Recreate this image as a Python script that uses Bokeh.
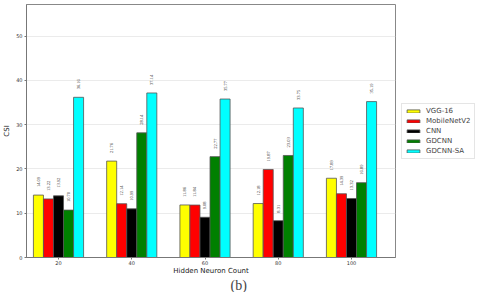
import numpy as np
from bokeh.plotting import figure
from bokeh.models import (ColumnDataSource, Range1d, FixedTicker, Legend, LegendItem,
                          Title, LabelSet)
from bokeh.embed import file_html
from bokeh.resources import INLINE

neurons = ["20", "40", "60", "80", "100"]
models = ["VGG-16", "MobileNetV2", "CNN", "GDCNN", "GDCNN-SA"]
vgg16 = [14.09, 21.76, 11.86, 12.18, 17.89]
mobilenetv2 = [13.22, 12.14, 11.84, 19.87, 14.39]
cnn = [13.92, 10.99, 9.08, 8.31, 13.32]
gdcnn = [10.70, 28.14, 22.77, 23.03, 16.89]
gdcnn_sa = [36.16, 37.14, 35.77, 33.75, 35.19]
series = [vgg16, mobilenetv2, cnn, gdcnn, gdcnn_sa]
colors = ["#ffff00", "#ff0000", "#000000", "#008000", "#00ffff"]

FONT = "DejaVu Sans"
bar_w = 0.137
PX = 73.25           # pixels per category step
FL, FR = 28, 397     # frame left/right in page px
C0 = 60              # page x of first group centre
FT, FB = 4, 257      # frame top/bottom in page px

x_start = -(C0 - FL) / PX
x_end = x_start + (FR - FL) / PX
y_end = (FB - FT) / 4.43

p = figure(frame_width=FR - FL, frame_height=FB - FT, output_backend="svg",
           toolbar_location=None,
           x_range=Range1d(x_start, x_end), y_range=Range1d(0, y_end),
           min_border_left=0, min_border_right=0, min_border_top=4, min_border_bottom=35)

idx = np.arange(len(neurons))
items = []
for k, (name, vals, col) in enumerate(zip(models, series, colors)):
    xs = idx + (k - 2) * bar_w
    src = ColumnDataSource(dict(x=xs, top=vals, lab=[f"{v:.2f}" for v in vals]))
    r = p.vbar(x="x", top="top", width=bar_w, bottom=0, source=src,
               fill_color=col, line_color="#555555", line_width=0.8)
    items.append(LegendItem(label=name, renderers=[r]))
    ls = LabelSet(x="x", y="top", text="lab", source=src, angle=np.pi / 2,
                  text_align="left", text_baseline="middle", y_offset=8,
                  text_font_size="4.5px", text_font=FONT, text_color="#222222")
    p.add_layout(ls)

p.xaxis.ticker = FixedTicker(ticks=list(idx))
p.xaxis.major_label_overrides = {int(i): n for i, n in zip(idx, neurons)}
p.yaxis.ticker = FixedTicker(ticks=[0, 10, 20, 30, 40, 50])

for ax in (p.xaxis[0], p.yaxis[0]):
    ax.major_label_text_font = FONT
    ax.major_label_text_font_size = "5px"
    ax.major_label_text_color = "#333333"
    ax.axis_label_text_font = FONT
    ax.axis_label_text_font_size = "7px"
    ax.axis_label_text_font_style = "normal"
    ax.axis_label_text_color = "#222222"
    ax.axis_line_color = "#777777"
    ax.major_tick_line_color = "#777777"
    ax.major_tick_out = 2
    ax.major_tick_in = 0
    ax.minor_tick_line_color = None
    ax.major_label_standoff = 2
    ax.axis_label_standoff = 2

p.xaxis[0].major_label_standoff = 1
p.xaxis[0].axis_label_standoff = -1
p.xaxis.axis_label = "Hidden Neuron Count"
p.yaxis.axis_label = "CSI"

p.xgrid.grid_line_color = None
p.ygrid.grid_line_color = "#e6e6e6"
p.ygrid.grid_line_width = 0.8
p.outline_line_color = "#888888"
p.outline_line_width = 1

legend = Legend(items=items, location="center_left", padding=3, margin=6,
                label_text_font=FONT, label_text_font_size="7px",
                label_height=8, glyph_height=4, glyph_width=16,
                label_standoff=5, spacing=2,
                border_line_color="#cccccc", border_line_width=1,
                background_fill_color="white")
p.add_layout(legend, "right")

sub = Title(text="(b)", align="left", text_font="Liberation Serif",
            text_font_size="14px", text_font_style="normal", standoff=-4, offset=204)
p.add_layout(sub, "below")

open("out.html", "w").write(file_html(p, INLINE))
